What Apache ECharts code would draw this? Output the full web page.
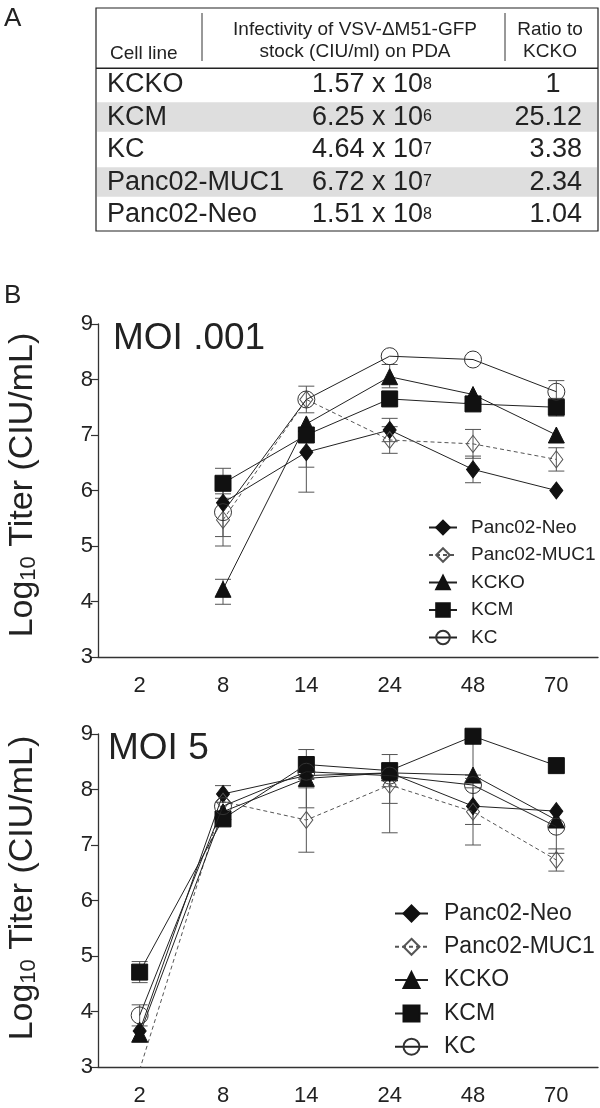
<!DOCTYPE html>
<html>
<head>
<meta charset="utf-8">
<script src="https://cdn.jsdelivr.net/npm/echarts@6/dist/echarts.min.js"></script>
<style>
  html, body { margin: 0; padding: 0; background: #fff; }
  #main { width: 600px; height: 1108px; }
</style>
</head>
<body>
<div id="main"></div>
<script>
// table A
const cellLines = ['KCKO', 'KCM', 'KC', 'Panc02-MUC1', 'Panc02-Neo'];
const infectMantissa = ['1.57', '6.25', '4.64', '6.72', '1.51'];
const infectExponent = ['8', '6', '7', '7', '8'];
const ratioToKcko = ['1', '25.12', '3.38', '2.34', '1.04'];

// panel B
const hours = ['2', '8', '14', '24', '48', '70'];
const seriesNames = ['Panc02-Neo', 'Panc02-MUC1', 'KCKO', 'KCM', 'KC'];

// MOI .001
const lowNeo = [null, 5.78, 6.69, 7.09, 6.38, 6.00];
const lowMuc1 = [null, 5.47, 7.64, 6.91, 6.84, 6.56];
const lowKcko = [null, 4.22, 7.20, 8.05, 7.73, 7.00];
const lowKcm = [null, 6.13, 7.00, 7.65, 7.56, 7.50];
const lowKc = [null, 5.61, 7.64, 8.42, 8.36, 7.78];

const lowErrNeo = [null, null, [6.42, 6.96], [6.88, 7.30], [6.14, 6.62], null];
const lowErrMuc1 = [null, [5.00, 5.94], null, [6.67, 7.15], [6.58, 7.10], [6.35, 6.77]];
const lowErrKcko = [null, [3.95, 4.40], null, [7.85, 8.27], null, null];
const lowErrKcm = [null, [5.86, 6.40], [5.97, 7.00], null, null, [7.34, 7.66]];
const lowErrKc = [null, [5.17, 6.05], [7.40, 7.88], null, null, [7.58, 7.98]];

// MOI 5
const highNeo = [3.65, 7.92, 8.25, 8.30, 7.70, 7.61];
const highMuc1 = [2.95, 7.78, 7.45, 8.08, 7.60, 6.73];
const highKcko = [3.59, 7.60, 8.20, 8.30, 8.26, 7.45];
const highKcm = [4.71, 7.47, 8.45, 8.34, 8.96, 8.43];
const highKc = [3.93, 7.70, 8.32, 8.25, 8.08, 7.33];

const highErrNeo = [null, [7.77, 8.07], null, null, [7.37, 8.03], null];
const highErrMuc1 = [null, null, [6.87, 8.03], [7.75, 8.41], [7.00, 8.20], [6.53, 6.93]];
const highErrKcko = [null, null, [7.67, 8.20], null, null, null];
const highErrKcm = [[4.52, 4.90], null, [8.18, 8.72], [8.05, 8.63], [8.26, 8.96], null];
const highErrKc = [[3.74, 4.12], null, null, [7.22, 8.25], null, [6.85, 7.33]];

const FONT = '"Liberation Sans", Arial, sans-serif';
const INK = '#222';

const chart = echarts.init(document.getElementById('main'));

const markers = [
  { symbol: 'diamond', symbolSize: [13, 17], itemStyle: { color: '#111', borderColor: '#111', borderWidth: 1 }, lineStyle: { color: '#222', width: 1 } },
  { symbol: 'diamond', symbolSize: [13, 17], itemStyle: { color: 'rgba(255,255,255,0)', borderColor: '#555', borderWidth: 1 }, lineStyle: { color: '#555', width: 1, type: [4, 3] } },
  { symbol: 'triangle', symbolSize: 16, itemStyle: { color: '#111', borderColor: '#111', borderWidth: 1 }, lineStyle: { color: '#222', width: 1 } },
  { symbol: 'rect', symbolSize: 16, itemStyle: { color: '#111', borderColor: '#111', borderWidth: 1 }, lineStyle: { color: '#222', width: 1 } },
  { symbol: 'circle', symbolSize: 17, itemStyle: { color: 'rgba(255,255,255,0)', borderColor: '#333', borderWidth: 1 }, lineStyle: { color: '#222', width: 1 } }
];

function renderErr(params, api) {
  const x = api.value(0);
  const p1 = api.coord([x, api.value(1)]);
  const p2 = api.coord([x, api.value(2)]);
  const w = 8;
  const st = { stroke: '#555', lineWidth: 1 };
  return {
    type: 'group',
    children: [
      { type: 'line', shape: { x1: p1[0], y1: p1[1], x2: p2[0], y2: p2[1] }, style: st },
      { type: 'line', shape: { x1: p1[0] - w, y1: p1[1], x2: p1[0] + w, y2: p1[1] }, style: st },
      { type: 'line', shape: { x1: p2[0] - w, y1: p2[1], x2: p2[0] + w, y2: p2[1] }, style: st }
    ]
  };
}

function buildPanel(idx, values, errs) {
  const out = [];
  const errData = [];
  errs.forEach(arr => {
    arr.forEach((e, i) => { if (e) errData.push([i, e[0], e[1]]); });
  });
  out.push({
    type: 'custom',
    xAxisIndex: idx,
    yAxisIndex: idx,
    renderItem: renderErr,
    encode: { x: 0, y: [1, 2] },
    data: errData,
    z: 1,
    silent: true
  });
  values.forEach((vals, s) => {
    out.push(Object.assign({
      name: seriesNames[s],
      type: 'line',
      xAxisIndex: idx,
      yAxisIndex: idx,
      data: vals,
      clip: true,
      z: 2 + s,
      emphasis: { disabled: true }
    }, markers[s]));
  });
  return out;
}

function xAx(gridIndex) {
  return {
    type: 'category',
    gridIndex,
    data: hours,
    boundaryGap: true,
    axisLine: { lineStyle: { color: '#333', width: 1.3 } },
    axisTick: { alignWithLabel: true, length: 8, lineStyle: { color: '#333', width: 1.2 } },
    axisLabel: { fontSize: 22, fontFamily: FONT, color: INK, margin: 18 },
    splitLine: { show: false }
  };
}

function yAx(gridIndex) {
  return {
    type: 'value',
    gridIndex,
    min: 3,
    max: 9,
    interval: 1,
    axisLine: { show: true, lineStyle: { color: '#333', width: 1.3 } },
    axisTick: { show: true, length: 7, lineStyle: { color: '#333', width: 1.2 } },
    axisLabel: { fontSize: 22, fontFamily: FONT, color: INK, margin: 5 },
    splitLine: { show: false }
  };
}

// rotated y title with subscript
function yTitle(cy) {
  return {
    type: 'text',
    x: 20,
    y: cy,
    rotation: Math.PI / 2,
    style: {
      text: '{a|Log}{s|10}{a| Titer (CIU/mL)}',
      textAlign: 'center',
      textVerticalAlign: 'middle',
      rich: {
        a: { fontSize: 34, fontFamily: FONT, fill: INK, lineHeight: 40, verticalAlign: 'bottom' },
        s: { fontSize: 22, fontFamily: FONT, fill: INK, lineHeight: 10, verticalAlign: 'bottom' }
      }
    }
  };
}

// table graphic built from the arrays
const tableChildren = [];
const tLeft = 96, tTop = 8, tRight = 598, tBottom = 231, headBottom = 68.3, rowH = 32.5;
cellLines.forEach((c, i) => {
  if (i % 2 === 1) {
    tableChildren.push({ type: 'rect', shape: { x: tLeft + 1, y: headBottom + rowH * i + 1.5, width: tRight - tLeft - 2, height: rowH - 3 }, style: { fill: '#dedede' } });
  }
});
tableChildren.push(
  { type: 'rect', shape: { x: tLeft, y: tTop, width: tRight - tLeft, height: tBottom - tTop }, style: { fill: 'none', stroke: '#222', lineWidth: 1.2 } },
  { type: 'line', shape: { x1: tLeft, y1: headBottom, x2: tRight, y2: headBottom }, style: { stroke: '#222', lineWidth: 1.5 } },
  { type: 'line', shape: { x1: 202, y1: 13, x2: 202, y2: 61 }, style: { stroke: '#333', lineWidth: 1 } },
  { type: 'line', shape: { x1: 505, y1: 13, x2: 505, y2: 61 }, style: { stroke: '#333', lineWidth: 1 } },
  { type: 'text', style: { text: 'Cell line', x: 110, y: 54, font: '19px ' + FONT, fill: INK, textVerticalAlign: 'middle' } },
  { type: 'text', style: { text: 'Infectivity of VSV-ΔM51-GFP', x: 355, y: 30, font: '19px ' + FONT, fill: INK, textAlign: 'center', textVerticalAlign: 'middle' } },
  { type: 'text', style: { text: 'stock (CIU/ml) on PDA', x: 355, y: 52, font: '19px ' + FONT, fill: INK, textAlign: 'center', textVerticalAlign: 'middle' } },
  { type: 'text', style: { text: 'Ratio to', x: 550, y: 30, font: '19px ' + FONT, fill: INK, textAlign: 'center', textVerticalAlign: 'middle' } },
  { type: 'text', style: { text: 'KCKO', x: 550, y: 52, font: '19px ' + FONT, fill: INK, textAlign: 'center', textVerticalAlign: 'middle' } }
);
cellLines.forEach((c, i) => {
  const cy = headBottom + rowH * i + rowH / 2;
  tableChildren.push(
    { type: 'text', style: { text: c, x: 107, y: cy, font: '27px ' + FONT, fill: INK, textVerticalAlign: 'middle' } },
    { type: 'text', style: {
      text: '{m|' + infectMantissa[i] + ' x 10}{e|' + infectExponent[i] + '}',
      x: 372, y: cy, textAlign: 'center', textVerticalAlign: 'middle',
      rich: { m: { fontSize: 27, fontFamily: FONT, fill: INK }, e: { fontSize: 16, fontFamily: FONT, fill: INK } }
    } },
    { type: 'text', style: {
      text: ratioToKcko[i],
      x: ratioToKcko[i].indexOf('.') < 0 ? 553 : 582,
      y: cy, font: '27px ' + FONT, fill: INK,
      textAlign: ratioToKcko[i].indexOf('.') < 0 ? 'center' : 'right',
      textVerticalAlign: 'middle'
    } }
  );
});

const option = {
  animation: false,
  backgroundColor: '#fff',
  grid: [
    { left: 98, top: 324, width: 500, height: 333, containLabel: false, outerBoundsMode: 'none' },
    { left: 98, top: 734, width: 500, height: 333, containLabel: false, outerBoundsMode: 'none' }
  ],
  xAxis: [xAx(0), xAx(1)],
  yAxis: [yAx(0), yAx(1)],
  legend: [
    {
      data: seriesNames, orient: 'vertical', left: 428, top: 518, padding: 0,
      itemWidth: 28, itemHeight: 17, itemGap: 8.5, selectedMode: false,
      textStyle: { fontSize: 19, fontFamily: FONT, color: INK, padding: [0, 0, 0, 9] }
    },
    {
      data: seriesNames, orient: 'vertical', left: 394, top: 902, padding: 0,
      itemWidth: 33, itemHeight: 20, itemGap: 10.3, selectedMode: false,
      textStyle: { fontSize: 23, fontFamily: FONT, color: INK, padding: [0, 0, 0, 11] }
    }
  ],
  graphic: [
    { type: 'text', style: { text: 'A', x: 4, y: 19, font: '26px ' + FONT, fill: INK, textVerticalAlign: 'middle' } },
    { type: 'text', style: { text: 'B', x: 4, y: 296, font: '26px ' + FONT, fill: INK, textVerticalAlign: 'middle' } },
    { type: 'text', style: { text: 'MOI .001', x: 113, y: 339, font: '37px ' + FONT, fill: INK, textVerticalAlign: 'middle' } },
    { type: 'text', style: { text: 'MOI 5', x: 108, y: 749, font: '37px ' + FONT, fill: INK, textVerticalAlign: 'middle' } },
    yTitle(485),
    yTitle(888),
    { type: 'group', children: tableChildren }
  ],
  series: [].concat(
    buildPanel(0, [lowNeo, lowMuc1, lowKcko, lowKcm, lowKc], [lowErrNeo, lowErrMuc1, lowErrKcko, lowErrKcm, lowErrKc]),
    buildPanel(1, [highNeo, highMuc1, highKcko, highKcm, highKc], [highErrNeo, highErrMuc1, highErrKcko, highErrKcm, highErrKc])
  )
};

chart.setOption(option);
</script>
</body>
</html>
